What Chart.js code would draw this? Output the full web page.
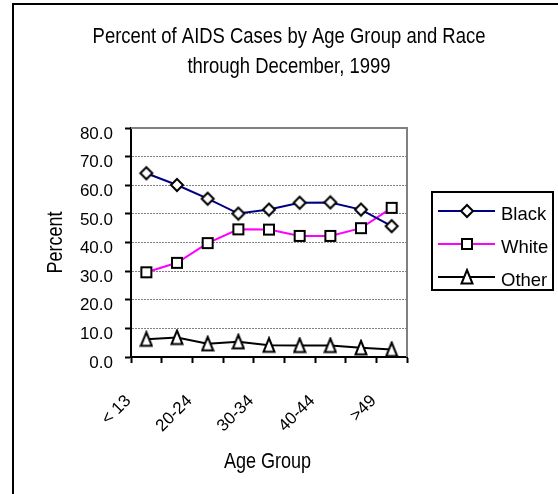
<!DOCTYPE html>
<html>
<head>
<meta charset="utf-8">
<script src="https://cdn.jsdelivr.net/npm/chart.js@4/dist/chart.umd.min.js"></script>
<style>
  html, body { margin: 0; padding: 0; background: #fff; }
  #wrap { width: 558px; height: 494px; position: relative; }
</style>
</head>
<body>
<div id="wrap"><canvas id="c" width="558" height="494"></canvas></div>
<script>
// Chart text and data
const titleLines = ['Percent of AIDS Cases by Age Group and Race', 'through December, 1999'];
const ageGroups = ['< 13', '13-19', '20-24', '25-29', '30-34', '35-39', '40-44', '45-49', '>49'];
const blackPct = [64.2, 60.1, 55.3, 50.1, 51.5, 53.9, 54.0, 51.5, 45.7];
const whitePct = [29.6, 32.9, 39.8, 44.6, 44.5, 42.3, 42.3, 45.0, 52.1];
const otherPct = [6.2, 6.8, 4.6, 5.3, 4.1, 4.0, 4.0, 3.2, 2.6];
const seriesNames = ['Black', 'White', 'Other'];
const yAxisTitle = 'Percent';
const xAxisTitle = 'Age Group';

const REG = "'Liberation Sans', Arial, sans-serif";
const CONDENSE = 0.82; // horizontal squeeze for the narrow title lettering

// Marker sprites: white fill, black outline
function makeMarker(kind) {
  const c = document.createElement('canvas');
  let w = 16, h = 16;
  if (kind === 'square') { w = 14; h = 14; }
  if (kind === 'triangle') { w = 14; h = 18; }
  c.width = w; c.height = h;
  const g = c.getContext('2d');
  g.lineWidth = 2; g.strokeStyle = '#000'; g.fillStyle = '#fff'; g.lineJoin = 'miter';
  g.beginPath();
  if (kind === 'diamond') {
    g.moveTo(8, 2); g.lineTo(14, 8); g.lineTo(8, 14); g.lineTo(2, 8); g.closePath();
  } else if (kind === 'square') {
    g.rect(2, 2, 10, 10);
  } else {
    g.moveTo(7, 2); g.lineTo(12.5, 15.5); g.lineTo(1.5, 15.5); g.closePath();
  }
  g.fill(); g.stroke();
  return c;
}
const diamond = makeMarker('diamond');
const square = makeMarker('square');
const triangle = makeMarker('triangle');

// Draws condensed text centred at (x, y) on the alphabetic baseline
function narrowText(ctx, text, x, y, size, angle) {
  ctx.save();
  ctx.translate(x, y);
  if (angle) ctx.rotate(angle);
  ctx.scale(CONDENSE, 1);
  ctx.font = size + 'px ' + REG;
  ctx.textAlign = 'center';
  ctx.textBaseline = 'alphabetic';
  ctx.fillStyle = '#000';
  ctx.fillText(text, 0, 0);
  ctx.restore();
}

// Outer frame, plot border, titles and legend
const decor = {
  id: 'decor',
  beforeDraw(chart) {
    const ctx = chart.ctx;
    ctx.save();
    ctx.fillStyle = '#fff';
    ctx.fillRect(0, 0, chart.width, chart.height);
    ctx.fillStyle = '#000';
    ctx.fillRect(12, 3, chart.width - 12, 2);
    ctx.fillRect(12, 3, 2, chart.height - 3);
    ctx.restore();
  },
  beforeDatasetsDraw(chart) {
    const { ctx, chartArea: a } = chart;
    ctx.save();
    ctx.strokeStyle = '#808080';
    ctx.lineWidth = 2;
    ctx.beginPath();
    ctx.moveTo(a.left, a.top);
    ctx.lineTo(a.right, a.top);
    ctx.lineTo(a.right, a.bottom);
    ctx.stroke();
    ctx.restore();
  },
  afterDraw(chart) {
    const ctx = chart.ctx;
    const a = chart.chartArea;
    // chart title
    narrowText(ctx, titleLines[0], 289, 43, 22.5);
    narrowText(ctx, titleLines[1], 289, 73, 22.5);
    // axis titles
    narrowText(ctx, yAxisTitle, 62, (a.top + a.bottom) / 2, 22, -Math.PI / 2);
    narrowText(ctx, xAxisTitle, (a.left + a.right) / 2 - 1.5, 468, 22);

    // legend
    ctx.save();
    ctx.lineWidth = 2;
    ctx.strokeStyle = '#000';
    ctx.strokeRect(432, 192, 121, 98);
    const rows = [211, 244, 277];
    chart.data.datasets.forEach((ds, i) => {
      const y = rows[i];
      ctx.strokeStyle = ds.borderColor;
      ctx.lineWidth = 2;
      ctx.beginPath();
      ctx.moveTo(438, y);
      ctx.lineTo(495, y);
      ctx.stroke();
      const m = ds.pointStyle;
      ctx.drawImage(m, 467 - m.width / 2, y - m.height / 2);
      ctx.fillStyle = '#000';
      ctx.font = '18.5px ' + REG;
      ctx.textAlign = 'left';
      ctx.textBaseline = 'alphabetic';
      ctx.fillText(ds.label, 501, y + 8.5);
    });
    ctx.restore();
  }
};

function line(label, data, color, marker) {
  return {
    label, data,
    borderColor: color, borderWidth: 2,
    pointStyle: marker, pointRadius: 7,
    tension: 0, clip: false, fill: false
  };
}

new Chart(document.getElementById('c'), {
  type: 'line',
  data: {
    labels: ageGroups,
    datasets: [
      line(seriesNames[0], blackPct, '#000080', diamond),
      line(seriesNames[1], whitePct, '#FF00FF', square),
      line(seriesNames[2], otherPct, '#000000', triangle)
    ]
  },
  options: {
    responsive: false,
    animation: false,
    events: [],
    layout: { padding: { top: 128, right: 151, left: 0, bottom: 0 } },
    plugins: { legend: { display: false }, title: { display: false }, tooltip: { enabled: false } },
    scales: {
      x: {
        type: 'category',
        offset: true,
        grid: { offset: true, drawOnChartArea: false, drawTicks: true, tickLength: 6, tickWidth: 2, tickColor: '#000' },
        border: { color: '#000', width: 2 },
        ticks: {
          autoSkip: false, minRotation: 45, maxRotation: 45,
          font: { family: REG, size: 17 }, color: '#000',
          padding: 28, labelOffset: -18,
          callback(v, i) { return i % 2 === 0 ? this.getLabelForValue(v) : ''; }
        },
        afterFit(s) { s.height = 137; }
      },
      y: {
        min: 0, max: 80,
        ticks: {
          stepSize: 10, font: { family: REG, size: 17 }, color: '#000',
          padding: 12, labelOffset: 6,
          callback(v) { return Number(v).toFixed(1); }
        },
        grid: {
          color: (c) => (c.tick && (c.tick.value === 0 || c.tick.value === 80)) ? 'rgba(0,0,0,0)' : '#808080',
          lineWidth: 1, drawTicks: true, tickLength: 6, tickWidth: 2, tickColor: '#000'
        },
        border: { color: '#000', width: 2, dash: [2, 1] },
        afterFit(s) { s.width = 131; }
      }
    }
  },
  plugins: [decor]
});
</script>
</body>
</html>
